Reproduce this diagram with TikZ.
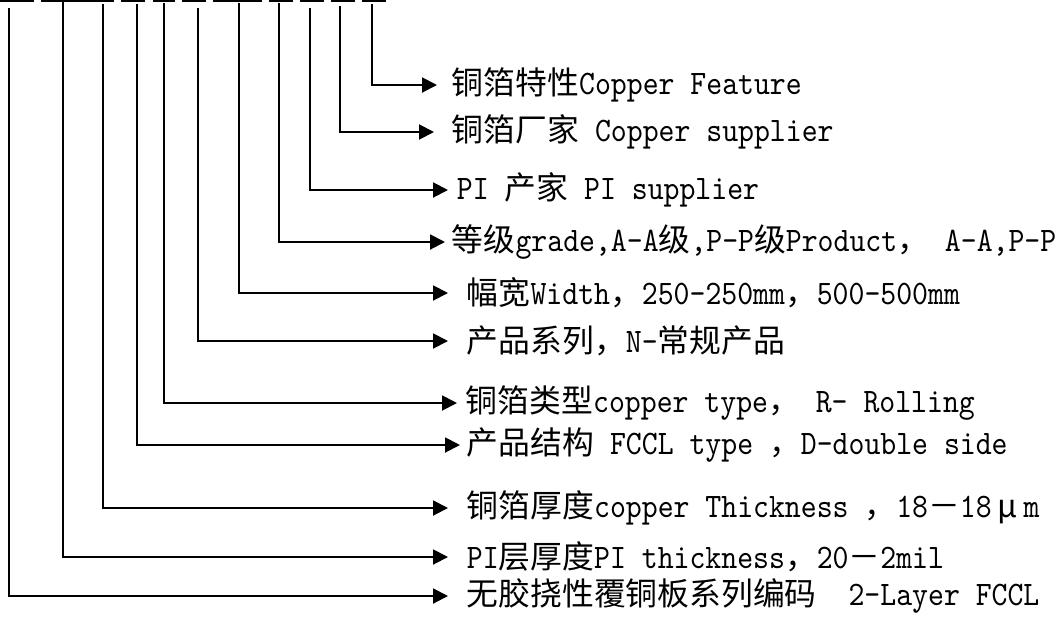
\documentclass[tikz,border=0pt]{standalone}
\usepackage{fontspec}
\setmainfont{lmmono10-regular.otf}[Scale=1.08,FakeStretch=0.882]
\newfontfamily\cjk{Noto Sans CJK SC}
\usetikzlibrary{arrows.meta}

\begin{document}
\begin{tikzpicture}[x=0.02cm,y=-0.02cm,line width=1.1pt,>={Triangle[length=0.3cm,width=0.3cm]},
  lbl/.style={anchor=west,inner sep=0pt,font=\fontsize{18.1}{20}\selectfont}]
\useasboundingbox (0,0) rectangle (1064,626);
\foreach \a/\b in {0/34,41/114,121/145,153/175,182/206,213/262,269/293,300/324,331/355,362/386}
  \draw (\a,1) -- (\b,1);
\foreach \n/\x/\y in {feat/372/4,cusup/340/6,pisup/310/8,grade/279/3,width/239/3,series/198/8,
  cutype/164/3,struct/137/4,cuthk/103/4,pithk/63/2,code/9/8}
  \coordinate (t-\n) at (\x,\y);
\node[lbl] (feat) at (451,85) {{\cjk 铜箔特性}Copper Feature};
\node[lbl] (cusup) at (451,132) {{\cjk 铜箔厂家} Copper supplier};
\node[lbl] (pisup) at (456,190) {PI {\cjk 产家} PI supplier};
\node[lbl] (grade) at (451,242) {{\cjk 等级}grade,A-A{\cjk 级},P-P{\cjk 级}Product{\cjk ，} A-A,P-P};
\node[lbl] (width) at (466,293) {{\cjk 幅宽}Width{\cjk ，}250-250mm{\cjk ，}500-500mm};
\node[lbl] (series) at (466,341) {{\cjk 产品系列，}N-{\cjk 常规产品}};
\node[lbl] (cutype) at (465,403) {{\cjk 铜箔类型}copper type{\cjk ，} R- Rolling};
\node[lbl] (struct) at (466,445) {{\cjk 产品结构} FCCL type {\cjk ，}D-double side};
\node[lbl] (cuthk) at (466,508) {{\cjk 铜箔厚度}copper Thickness {\cjk ，}18{\cjk －}18{\cjk\makebox[1em]{μ}}m};
\node[lbl] (pithk) at (466,557) {PI{\cjk 层厚度}PI thickness{\cjk ，}20{\cjk －}2mil};
\node[lbl] (code) at (466,596) {{\cjk 无胶挠性覆铜板系列编码}~~2-Layer FCCL};
\draw[->,shorten >=0.28cm] (t-feat) |- (feat);
\draw[->,shorten >=0.34cm] (t-cusup) |- (cusup);
\draw[->,shorten >=0.16cm] (t-pisup) |- (pisup);
\draw[->,shorten >=0.12cm] (t-grade) |- (grade);
\draw[->,shorten >=0.36cm] (t-width) |- (width);
\draw[->,shorten >=0.36cm] (t-series) |- (series);
\draw[->,shorten >=0.16cm] (t-cutype) |- (cutype);
\draw[->,shorten >=0.12cm] (t-struct) |- (struct);
\draw[->,shorten >=0.36cm] (t-cuthk) |- (cuthk);
\draw[->,shorten >=0.36cm] (t-pithk) |- (pithk);
\draw[->,shorten >=0.36cm] (t-code) |- (code);
\end{tikzpicture}
\end{document}
